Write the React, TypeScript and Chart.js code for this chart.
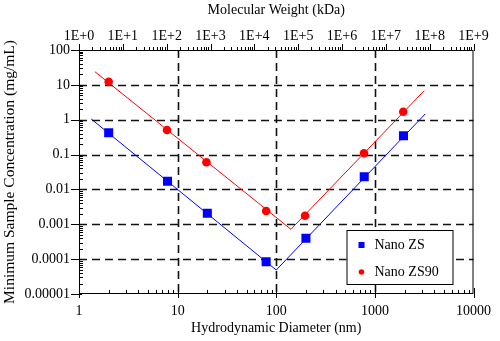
import React, { useEffect, useRef } from "react";
import { Chart, registerables } from "chart.js";

Chart.register(...registerables);

// Nano ZS90 (red circles) measured points
const zs90X = [2.0, 7.8, 19.6, 79, 196, 776, 1940];
const zs90Y = [12.3, 0.507, 0.06, 0.0024, 0.00176, 0.109, 1.7];
// Nano ZS (blue squares) measured points
const zsX = [2.0, 7.9, 20, 79, 200, 780, 1950];
const zsY = [0.42, 0.0171, 0.00207, 0.0000845, 0.000396, 0.0232, 0.348];
// Fitted V-shaped lines
const zs90LineX = [1.45, 141, 3162];
const zs90LineY = [23.8, 0.000718, 6.8];
const zsLineX = [1.33, 100, 3236];
const zsLineY = [1.05, 0.0000488, 1.46];

const seriesNames = ["Nano ZS", "Nano ZS90"];
const xTitle = "Hydrodynamic Diameter (nm)";
const yTitle = "Minimum Sample Concentration (mg/mL)";
const topTitle = "Molecular Weight (kDa)";

const FONT = "'Liberation Serif', 'Times New Roman', serif";

const pts = (xs: number[], ys: number[]) => xs.map((x, i) => ({ x, y: ys[i] }));

const isPow10 = (v: number) => {
  const l = Math.log10(v);
  return Math.abs(l - Math.round(l)) < 1e-6;
};
const yLabel = (v: number) => {
  const e = Math.round(Math.log10(v));
  if (e >= 0) return String(Math.pow(10, e));
  return "0." + "0".repeat(-e - 1) + "1";
};

const decorPlugin = {
  id: "decor",
  beforeDatasetsDraw(chart: any) {
    const ctx = chart.ctx;
    const { left, right, top, bottom } = chart.chartArea;
    const xs = chart.scales.x;
    const ys = chart.scales.y;
    ctx.save();
    ctx.strokeStyle = "#111";
    ctx.lineWidth = 1.6;
    ctx.setLineDash([8, 5]);
    for (let e = 1; e <= 3; e++) {
      const px = Math.round(xs.getPixelForValue(Math.pow(10, e))) + 0.5;
      ctx.beginPath();
      ctx.moveTo(px, top);
      ctx.lineTo(px, bottom);
      ctx.stroke();
    }
    for (let e = -4; e <= 1; e++) {
      const py = Math.round(ys.getPixelForValue(Math.pow(10, e))) + 0.5;
      ctx.beginPath();
      ctx.moveTo(left, py);
      ctx.lineTo(right, py);
      ctx.stroke();
    }
    ctx.restore();
  },
  afterDatasetsDraw(chart: any) {
    const ctx = chart.ctx;
    const { left, right, top, bottom } = chart.chartArea;
    const xs = chart.scales.x;
    const ys = chart.scales.y;
    const x2 = chart.scales.x2;
    ctx.save();
    ctx.strokeStyle = "#000";
    ctx.lineWidth = 1;
    ctx.setLineDash([]);
    const seg = (a: number, b: number, c: number, d: number) => {
      ctx.beginPath();
      ctx.moveTo(a, b);
      ctx.lineTo(c, d);
      ctx.stroke();
    };
    // border
    ctx.strokeRect(left + 0.5, top + 0.5, right - left - 1, bottom - top - 1);
    // bottom axis ticks
    for (let e = 0; e <= 4; e++) {
      for (let m = 1; m <= 9; m++) {
        const v = m * Math.pow(10, e);
        if (v > 10000) break;
        const px = Math.round(xs.getPixelForValue(v)) + 0.5;
        if (m === 1) seg(px, bottom - 6, px, bottom + 4);
        else seg(px, bottom - 4, px, bottom);
      }
    }
    // left axis ticks
    for (let e = -5; e <= 2; e++) {
      for (let m = 1; m <= 9; m++) {
        const v = m * Math.pow(10, e);
        if (v > 100) break;
        const py = Math.round(ys.getPixelForValue(v)) + 0.5;
        if (m === 1) seg(left - 8, py, left + 3, py);
        else seg(left, py, left + 4, py);
      }
    }
    // top axis ticks
    for (let e = 0; e <= 9; e++) {
      for (let m = 1; m <= 9; m++) {
        const v = m * Math.pow(10, e);
        if (v > 1e9) break;
        const px = Math.round(x2.getPixelForValue(v)) + 0.5;
        if (m === 1) seg(px, top - 6, px, top + 1);
        else seg(px, top - 3, px, top);
      }
    }
    ctx.restore();
  },
  afterDraw(chart: any) {
    const ctx = chart.ctx;
    const { right, bottom } = chart.chartArea;
    const bx = right - 127;
    const by = bottom - 64;
    const bw = 106;
    const bh = 54;
    ctx.save();
    ctx.fillStyle = "#fff";
    ctx.fillRect(bx, by, bw, bh);
    ctx.strokeStyle = "#000";
    ctx.lineWidth = 1;
    ctx.strokeRect(bx + 0.5, by + 0.5, bw, bh);
    ctx.fillStyle = "#0000ff";
    ctx.fillRect(bx + 12, by + 12, 6, 6);
    ctx.fillStyle = "#ff0000";
    ctx.beginPath();
    ctx.arc(bx + 15, by + 42, 2.8, 0, Math.PI * 2);
    ctx.fill();
    ctx.fillStyle = "#000";
    ctx.font = `14px ${FONT}`;
    ctx.textBaseline = "middle";
    ctx.textAlign = "left";
    ctx.fillText(seriesNames[0], bx + 28, by + 15);
    ctx.fillText(seriesNames[1], bx + 28, by + 42);
    ctx.restore();
  },
};

export default function App() {
  const ref = useRef<HTMLCanvasElement>(null);
  useEffect(() => {
    document.body.style.margin = "0";
    const canvas = ref.current!;
    const tickFont = { family: FONT, size: 14 };
    const chart = new Chart(canvas, {
      type: "scatter",
      data: {
        datasets: [
          {
            label: "ZS line",
            data: pts(zsLineX, zsLineY),
            showLine: true,
            borderColor: "#0000ff",
            borderWidth: 1,
            pointRadius: 0,
            xAxisID: "x",
            yAxisID: "y",
          },
          {
            label: "ZS90 line",
            data: pts(zs90LineX, zs90LineY),
            showLine: true,
            borderColor: "#ff0000",
            borderWidth: 1,
            pointRadius: 0,
            xAxisID: "x",
            yAxisID: "y",
          },
          {
            label: seriesNames[0],
            data: pts(zsX, zsY),
            showLine: false,
            pointStyle: "rect",
            pointRadius: 6.4,
            backgroundColor: "#0000ff",
            borderColor: "#0000ff",
            borderWidth: 0,
            xAxisID: "x",
            yAxisID: "y",
          },
          {
            label: seriesNames[1],
            data: pts(zs90X, zs90Y),
            showLine: false,
            pointStyle: "circle",
            pointRadius: 4.3,
            backgroundColor: "#ff0000",
            borderColor: "#ff0000",
            borderWidth: 0,
            xAxisID: "x",
            yAxisID: "y",
          },
        ],
      },
      options: {
        animation: false,
        responsive: false,
        layout: { padding: { left: 0, right: 21, top: 0, bottom: 0 } },
        plugins: { legend: { display: false }, tooltip: { enabled: false } },
        scales: {
          x: {
            type: "logarithmic",
            position: "bottom",
            min: 1,
            max: 10000,
            grid: { display: false, drawTicks: false },
            border: { display: false },
            ticks: {
              autoSkip: false,
              maxRotation: 0,
              padding: 9,
              color: "#000",
              font: tickFont,
              callback: (v: any) => (isPow10(Number(v)) ? String(Math.round(Number(v))) : ""),
            },
            title: {
              display: true,
              text: xTitle,
              color: "#000",
              font: tickFont,
              padding: { top: 0, bottom: 4 },
            },
            afterFit: (s: any) => {
              s.height = 47;
            },
          },
          x2: {
            type: "logarithmic",
            position: "top",
            min: 1,
            max: 1e9,
            grid: { display: false, drawTicks: false },
            border: { display: false },
            ticks: {
              autoSkip: false,
              maxRotation: 0,
              padding: 5,
              color: "#000",
              font: tickFont,
              callback: (v: any) =>
                isPow10(Number(v)) ? "1E+" + Math.round(Math.log10(Number(v))) : "",
            },
            title: {
              display: true,
              text: topTitle,
              color: "#000",
              font: tickFont,
              padding: { top: 2, bottom: 0 },
            },
            afterFit: (s: any) => {
              s.height = 50;
            },
          },
          y: {
            type: "logarithmic",
            position: "left",
            min: 0.00001,
            max: 100,
            grid: { display: false, drawTicks: false },
            border: { display: false },
            ticks: {
              autoSkip: false,
              padding: 9,
              color: "#000",
              font: tickFont,
              callback: (v: any) => (isPow10(Number(v)) ? yLabel(Number(v)) : ""),
            },
            title: {
              display: true,
              text: yTitle,
              color: "#000",
              font: { family: FONT, size: 15.5 },
              padding: { top: 1, bottom: 0 },
            },
            afterFit: (s: any) => {
              s.width = 79;
            },
          },
        },
      },
      plugins: [decorPlugin],
    } as any);
    return () => chart.destroy();
  }, []);
  return (
    <div style={{ position: "absolute", left: 0, top: 0, width: 500, height: 341, background: "#fff" }}>
      <canvas ref={ref} width={500} height={341} style={{ width: 500, height: 341 }} />
    </div>
  );
}
